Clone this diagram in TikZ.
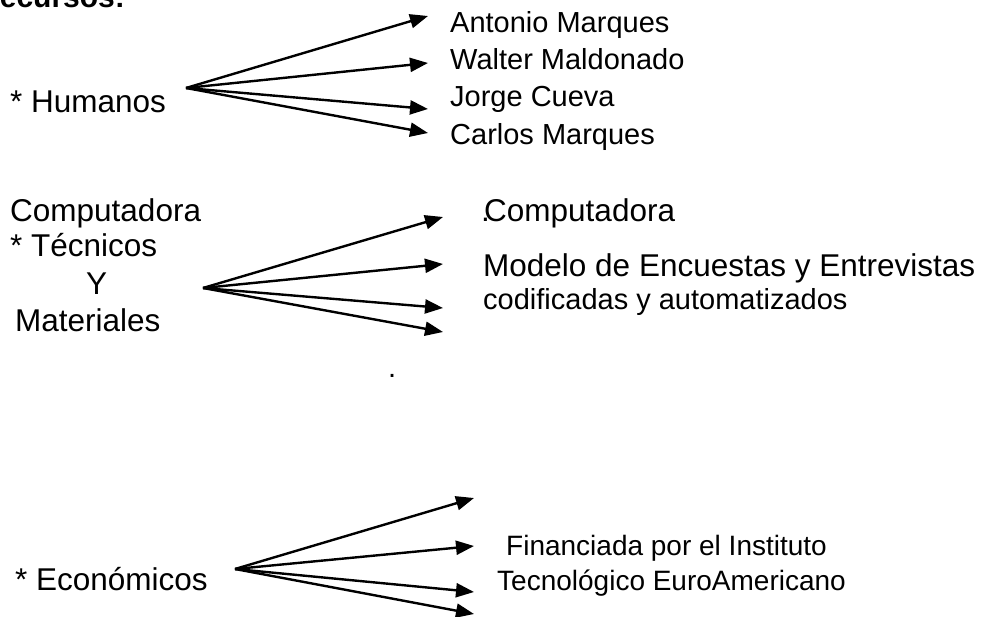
\documentclass[tikz,border=0pt]{standalone}
\usepackage{fontspec}
\setmainfont{Liberation Sans}
\usetikzlibrary{arrows.meta}
\begin{document}
\begin{tikzpicture}[x=1pt,y=-1pt,
  lbl/.style={anchor=base west,inner sep=0pt,font=\fontsize{29}{34}\selectfont},
  big/.style={lbl,font=\fontsize{31.5}{36}\selectfont},
  sml/.style={lbl,font=\fontsize{28}{33}\selectfont},
  arr/.style={line width=2.4pt,-{Triangle[length=18pt,width=14pt]}}]
\useasboundingbox (0,0) rectangle (987,617);
\clip (0,0) rectangle (987,617);
% cut title
\node[big,font=\fontsize{30}{34}\selectfont\bfseries] (title) at (-22,8) {Recursos:};
% group 1
\node[big] (hum) at (10,113) {* Humanos};
\coordinate (s1) at (186,88);
\coordinate (t11) at (428,16);
\coordinate (t12) at (428,63);
\coordinate (t13) at (428,109);
\coordinate (t14) at (428,133);
\foreach \t in {t11,t12,t13,t14} \draw[arr] (s1) -- (\t);
\node[lbl] (n1) at (450,33) {Antonio Marques};
\node[lbl] (n2) at (450,70) {Walter Maldonado};
\node[lbl] (n3) at (450,107) {Jorge Cueva};
\node[lbl] (n4) at (450,145) {Carlos Marques};
% group 2
\node[big] (c1) at (10,222) {Computadora};
\node[big] (c2) at (10,257) {* Técnicos};
\node[big] (c3) at (86,295) {Y};
\node[big] (c4) at (15,331) {Materiales};
\coordinate (s2) at (203,288);
\coordinate (t21) at (443,217);
\coordinate (t22) at (443,264);
\coordinate (t23) at (443,308);
\coordinate (t24) at (443,332);
\foreach \t in {t21,t22,t23,t24} \draw[arr] (s2) -- (\t);
\node[big] (r0) at (481,222) {.};
\node[big] (r1) at (484,222) {Computadora};
\node[big] (r2) at (483,277) {Modelo de Encuestas y Entrevistas};
\node[lbl] (r3) at (483,310) {codificadas y automatizados};
\node[lbl] (dot) at (388,377) {.};
% group 3
\node[big] (eco) at (15,590) {* Económicos};
\coordinate (s3) at (235,569);
\coordinate (t31) at (474,498);
\coordinate (t32) at (474,546);
\coordinate (t33) at (474,592);
\coordinate (t34) at (474,614);
\foreach \t in {t31,t32,t33,t34} \draw[arr] (s3) -- (\t);
\node[sml] (f1) at (506,555) {Financiada por el Instituto};
\node[sml] (f2) at (497,590) {Tecnológico EuroAmericano};
\end{tikzpicture}
\end{document}
